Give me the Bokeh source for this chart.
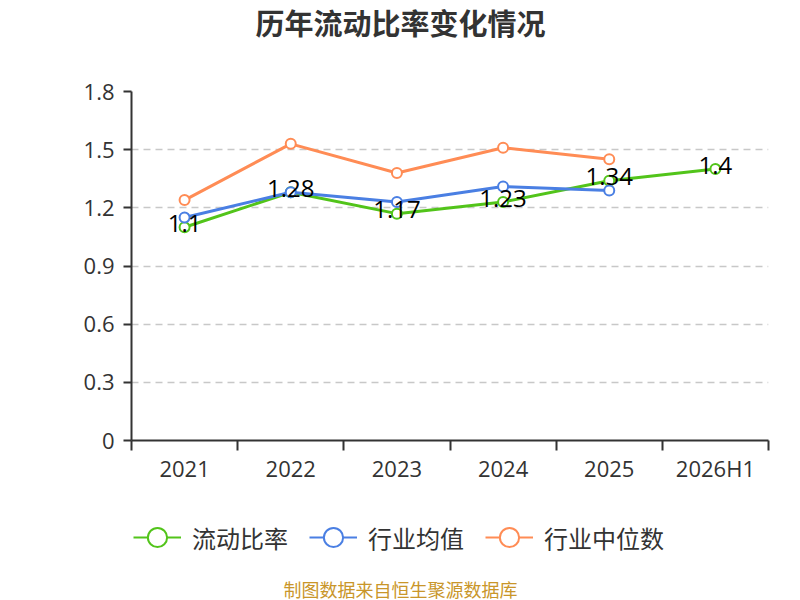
from bokeh.core.properties import value
from bokeh.embed import file_html
from bokeh.layouts import column
from bokeh.models import (ColumnDataSource, FixedTicker, Label, Legend,
                          LegendItem, NumeralTickFormatter)
from bokeh.plotting import figure
from bokeh.resources import INLINE

# data
years = ["2021", "2022", "2023", "2024", "2025", "2026H1"]
current_ratio = [1.10, 1.28, 1.17, 1.23, 1.34, 1.40]
industry_mean = [1.15, 1.28, 1.23, 1.31, 1.29]
industry_median = [1.24, 1.53, 1.38, 1.51, 1.45]
y_ticks = [0, 0.3, 0.6, 0.9, 1.2, 1.5, 1.8]

series_names = ["流动比率", "行业均值", "行业中位数"]
title_text = "历年流动比率变化情况"
source_text = "制图数据来自恒生聚源数据库"

CJK = "Noto Sans CJK SC"
NUM = "Open Sans"
GREEN = "#52c41a"
BLUE = "#4a7fe3"
ORANGE = "#ff8c55"
colors = [GREEN, BLUE, ORANGE]

W = 800
FRAME_L, FRAME_R = 131, 768   # column aligns every row to the main frame


def blank(height):
    # a bare figure whose data units are page pixels, used for the text rows
    f = figure(width=W, height=height, x_range=(FRAME_L, FRAME_R),
               y_range=(0, height),
               output_backend="svg", toolbar_location=None, tools="",
               x_axis_type=None, y_axis_type=None, min_border=0)
    f.grid.visible = False
    f.outline_line_color = None
    return f


# title row
top = blank(50)
top.add_layout(Label(x=W / 2, y=29, text=title_text, text_align="center",
                     text_baseline="middle", text_font=CJK,
                     text_font_size="29px", text_font_style="bold",
                     text_color="#333333"))

# main chart
xs = list(range(len(years)))
p = figure(width=W, height=442,
           x_range=(-0.5, len(years) - 0.5), y_range=(0, 1.8),
           output_backend="svg", toolbar_location=None, tools="",
           min_border_left=FRAME_L, min_border_right=W - FRAME_R,
           min_border_top=41, min_border_bottom=52)
p.outline_line_color = None

for ax in (p.xaxis[0], p.yaxis[0]):
    ax.axis_line_color = "#333333"
    ax.axis_line_width = 2
    ax.major_label_text_font = NUM
    ax.major_label_text_font_size = "22px"
    ax.major_label_text_color = "#333333"

p.yaxis.ticker = FixedTicker(ticks=y_ticks)
p.yaxis.formatter = NumeralTickFormatter(format="0.[0]")
p.yaxis.major_tick_line_color = "#333333"
p.yaxis.major_tick_line_width = 2
p.yaxis.major_tick_in = 0
p.yaxis.major_tick_out = 8
p.yaxis.minor_tick_line_color = None
p.yaxis.major_label_standoff = 9

# x axis: labels in band centres, ticks on band boundaries
p.xaxis.ticker = FixedTicker(ticks=xs, minor_ticks=[i - 0.5 for i in range(len(years) + 1)])
p.xaxis.major_label_overrides = {i: y for i, y in zip(xs, years)}
p.xaxis.major_tick_line_color = None
p.xaxis.major_tick_out = 6
p.xaxis.major_tick_in = 0
p.xaxis.minor_tick_line_color = "#333333"
p.xaxis.minor_tick_line_width = 2
p.xaxis.minor_tick_in = 0
p.xaxis.minor_tick_out = 10
p.xaxis.major_label_standoff = 2

p.xgrid.grid_line_color = None
p.ygrid.grid_line_color = "#c8c8c8"
p.ygrid.grid_line_dash = "7 5"
p.ygrid.grid_line_width = 1.5

sources = [
    ColumnDataSource(dict(x=xs[:len(current_ratio)], y=current_ratio)),
    ColumnDataSource(dict(x=xs[:len(industry_mean)], y=industry_mean)),
    ColumnDataSource(dict(x=xs[:len(industry_median)], y=industry_median)),
]
for src, color in zip(sources, colors):
    p.line("x", "y", source=src, line_color=color, line_width=3)
    p.scatter("x", "y", source=src, size=10, marker="circle",
              fill_color="white", line_color=color, line_width=2)

label_src = ColumnDataSource(dict(x=xs[:len(current_ratio)], y=current_ratio,
                                  label=[f"{v:g}" for v in current_ratio]))
p.text("x", "y", text="label", source=label_src, text_align="center",
       text_baseline="middle", y_offset=-4, text_color="#000000",
       text_font=value(NUM), text_font_size="24px")

# legend + source row; the legend glyphs come from renderers that draw nothing
bottom = blank(108)
items = []
for name, color in zip(series_names, colors):
    nothing = ColumnDataSource(dict(x=[float("nan")], y=[float("nan")]))
    lr = bottom.line("x", "y", source=nothing, line_color=color, line_width=2)
    sr = bottom.scatter("x", "y", source=nothing, size=20, marker="circle",
                        fill_color="white", line_color=color, line_width=2)
    items.append(LegendItem(label=name, renderers=[lr, sr]))

legend = Legend(items=items, orientation="horizontal", location=(133 - FRAME_L, 38),
                glyph_width=48, glyph_height=50, padding=0, margin=0,
                spacing=21, label_standoff=11, border_line_color=None,
                background_fill_alpha=0,
                label_text_font=CJK, label_text_font_size="24px",
                label_text_color="#333333")
bottom.add_layout(legend)

bottom.add_layout(Label(x=W / 2, y=12, text=source_text, text_align="center",
                        text_baseline="middle", text_font=CJK,
                        text_font_size="18px", text_color="#c9962a"))

layout = column(top, p, bottom, spacing=0)
open("out.html", "w").write(file_html(layout, INLINE))
